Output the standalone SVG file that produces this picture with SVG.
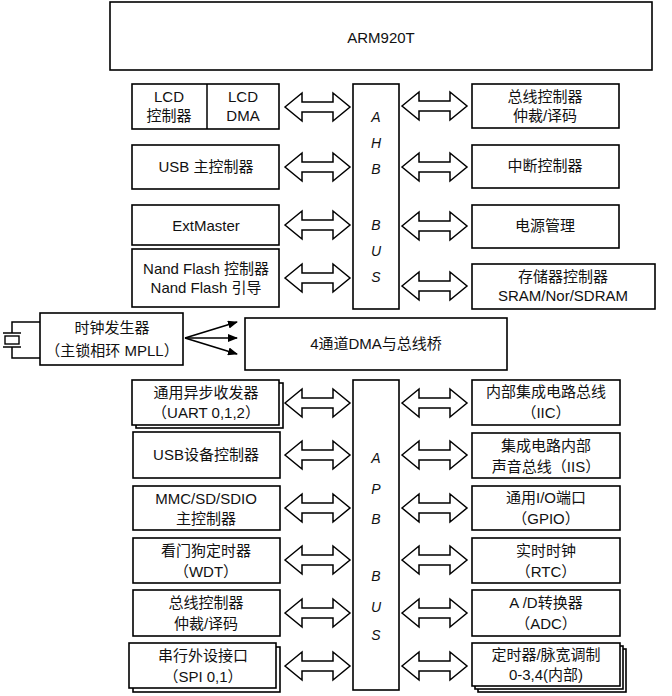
<svg xmlns="http://www.w3.org/2000/svg" width="672" height="696" viewBox="0 0 672 696">
<style>
rect{fill:#fff;stroke:#000;stroke-width:1.6}
text{font-family:"Liberation Sans","Noto Sans CJK SC",sans-serif;font-size:15px;text-anchor:middle;fill:#111}
.bus{font-style:italic;font-size:14px}
.arr{fill:#fff;stroke:#000;stroke-width:1.5;stroke-linejoin:miter}
line,polyline{stroke:#000;stroke-width:1.5;fill:none}
</style>
<defs>
<path id="da" class="arr" d="M0,0 L17,-14 L17,-5 L48,-5 L48,-14 L65,0 L48,14 L48,5 L17,5 L17,14 Z"/>
<marker id="ah" markerWidth="10" markerHeight="8" refX="9" refY="4" orient="auto" markerUnits="userSpaceOnUse"><path d="M0,0 L10,4 L0,8 Z" fill="#000"/></marker>
</defs>
<rect id="arm" x="110" y="2" width="542" height="68"/>
<text x="381" y="43" font-size="15">ARM920T</text>

<g id="ahb"><rect x="353" y="84" width="46" height="225"/>
<text class="bus" x="376" y="122">A</text><text class="bus" x="376" y="148">H</text><text class="bus" x="376" y="174">B</text>
<text class="bus" x="376" y="230">B</text><text class="bus" x="376" y="256">U</text><text class="bus" x="376" y="282">S</text></g>

<g id="lcd"><rect x="132" y="84" width="147" height="45"/><line x1="207" y1="84" x2="207" y2="129"/>
<text x="169" y="102">LCD</text><text x="169" y="121">控制器</text><text x="243" y="102">LCD</text><text x="243" y="121">DMA</text></g>
<g id="usbh"><rect x="132" y="145" width="147" height="44"/><text x="206" y="172">USB 主控制器</text></g>
<g id="ext"><rect x="132" y="205" width="147" height="40"/><text x="206" y="231">ExtMaster</text></g>
<g id="nand"><rect x="132" y="249" width="147" height="58"/><text x="206" y="274">Nand Flash 控制器</text><text x="206" y="293">Nand Flash  引导</text></g>

<g id="busctl"><rect x="472" y="84" width="147" height="44"/><text x="545" y="102">总线控制器</text><text x="545" y="121">仲裁/译码</text></g>
<g id="irq"><rect x="472" y="145" width="147" height="43"/><text x="545" y="171">中断控制器</text></g>
<g id="pwr"><rect x="472" y="205" width="147" height="43"/><text x="545" y="231">电源管理</text></g>
<g id="mem"><rect x="472" y="264" width="183" height="45"/><text x="563" y="282">存储器控制器</text><text x="563" y="301">SRAM/Nor/SDRAM</text></g>

<g id="clk"><rect x="40" y="313" width="143" height="52"/><text x="112" y="333">时钟发生器</text><text x="112" y="356">（主锁相环  MPLL）</text>
<polyline points="40,322 12,322 12,333"/><polyline points="40,358 12,358 12,347"/>
<line x1="3" y1="333" x2="21" y2="333"/><line x1="3" y1="347" x2="21" y2="347"/><rect x="5" y="336" width="14" height="8" style="stroke-width:1.4"/></g>
<g id="dma"><rect x="245" y="318" width="262" height="52"/><text x="376" y="349">4通道DMA与总线桥</text></g>

<g id="apb"><rect x="353" y="380" width="46" height="310"/>
<text class="bus" x="376" y="463">A</text><text class="bus" x="376" y="494">P</text><text class="bus" x="376" y="524">B</text>
<text class="bus" x="376" y="581">B</text><text class="bus" x="376" y="612">U</text><text class="bus" x="376" y="640">S</text></g>

<g id="uart"><rect x="136" y="383" width="147" height="45"/><rect x="132" y="380" width="147" height="45"/><text x="206" y="398">通用异步收发器</text><text x="206" y="418">（UART 0,1,2）</text></g>
<g id="usbd"><rect x="133" y="432" width="147" height="46"/><text x="206" y="460">USB设备控制器</text></g>
<g id="mmc"><rect x="133" y="486" width="147" height="44"/><text x="206" y="504">MMC/SD/SDIO</text><text x="206" y="524">主控制器</text></g>
<g id="wdt"><rect x="133" y="538" width="147" height="45"/><text x="206" y="556">看门狗定时器</text><text x="206" y="577">（WDT）</text></g>
<g id="busc2"><rect x="133" y="590" width="147" height="46"/><text x="206" y="608">总线控制器</text><text x="206" y="629">仲裁/译码</text></g>
<g id="spi"><rect x="133" y="647" width="147" height="45"/><rect x="129" y="643" width="147" height="45"/><text x="203" y="661">串行外设接口</text><text x="203" y="682">（SPI 0,1）</text></g>

<g id="iic"><rect x="472" y="380" width="148" height="45"/><text x="546" y="397">内部集成电路总线</text><text x="546" y="418">（IIC）</text></g>
<g id="iis"><rect x="472" y="433" width="148" height="45"/><text x="546" y="451">集成电路内部</text><text x="546" y="472">声音总线（IIS）</text></g>
<g id="gpio"><rect x="472" y="486" width="148" height="44"/><text x="546" y="503">通用I/O端口</text><text x="546" y="524">（GPIO）</text></g>
<g id="rtc"><rect x="472" y="538" width="148" height="45"/><text x="546" y="556">实时时钟</text><text x="546" y="577">（RTC）</text></g>
<g id="adc"><rect x="472" y="590" width="148" height="46"/><text x="546" y="608">A /D转换器</text><text x="546" y="629">（ADC）</text></g>
<g id="timer"><rect x="478" y="649" width="148" height="43"/><rect x="475" y="646" width="148" height="43"/><rect x="472" y="643" width="148" height="43"/><text x="546" y="660">定时器/脉宽调制</text><text x="546" y="680">0-3,4(内部)</text></g>

<g id="connectors">
<use href="#da" x="285" y="107"/><use href="#da" x="285" y="167"/><use href="#da" x="285" y="225"/><use href="#da" x="285" y="278"/>
<use href="#da" x="402" y="106"/><use href="#da" x="402" y="167"/><use href="#da" x="402" y="226"/><use href="#da" x="402" y="286"/>
<use href="#da" x="285" y="403"/><use href="#da" x="285" y="455"/><use href="#da" x="285" y="508"/><use href="#da" x="285" y="560"/><use href="#da" x="285" y="613"/><use href="#da" x="285" y="666"/>
<use href="#da" x="402" y="403"/><use href="#da" x="402" y="455"/><use href="#da" x="402" y="508"/><use href="#da" x="402" y="560"/><use href="#da" x="402" y="613"/><use href="#da" x="402" y="666"/>
<line x1="185" y1="338" x2="237" y2="322" marker-end="url(#ah)"/>
<line x1="185" y1="338" x2="237" y2="338" marker-end="url(#ah)"/>
<line x1="185" y1="338" x2="237" y2="354" marker-end="url(#ah)"/>
</g>
</svg>
